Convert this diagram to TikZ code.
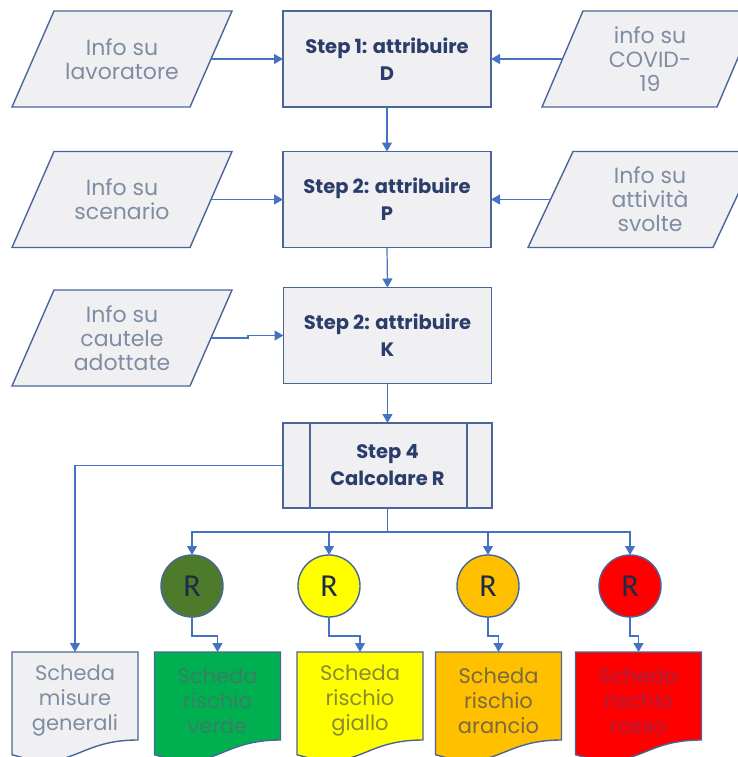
\documentclass[tikz,border=0pt]{standalone}
\usepackage{fontspec}
\setmainfont{Poppins}
\newfontfamily\rfont{Carlito}
\usetikzlibrary{arrows.meta,calc,backgrounds}
\definecolor{boxfill}{HTML}{F0F0F2}
\definecolor{edge}{HTML}{4A6699}
\definecolor{conn}{HTML}{4472C4}
\definecolor{infotext}{HTML}{7F8DA3}
\definecolor{steptext}{HTML}{2B3D6B}
\definecolor{rdark}{HTML}{1F2A48}
\definecolor{cgreen}{HTML}{4E7A2B}
\definecolor{cyellow}{HTML}{FFFF00}
\definecolor{corange}{HTML}{FFC000}
\definecolor{cred}{HTML}{FF0000}
\definecolor{dgreen}{HTML}{00B050}
\definecolor{tgreen}{HTML}{3A7D68}
\definecolor{tyellow}{HTML}{8A8A30}
\definecolor{torange}{HTML}{7A6A40}
\definecolor{tred}{HTML}{A82040}
\begin{document}
\begin{tikzpicture}[x=1pt,y=-1pt,
  infobox/.style={rectangle, minimum width=178pt, minimum height=96pt,
    inner sep=0pt, outer sep=0pt,
    text=infotext, font=\fontsize{22}{24}\selectfont, align=center},
  stepbox/.style={rectangle, draw=edge, line width=1.4pt, fill=boxfill,
    minimum width=208pt, minimum height=96pt, inner sep=0pt, outer sep=0pt,
    text=steptext, font=\bfseries\fontsize{19.5}{27}\selectfont, align=center},
  rnode/.style={circle, draw=edge, line width=1.4pt, minimum size=62pt,
    inner sep=0pt, outer sep=0pt, text=rdark, font=\rfont\fontsize{32}{32}\selectfont},
  docnode/.style={rectangle, minimum width=126pt, minimum height=98pt,
    inner sep=0pt, outer sep=0pt, anchor=north, align=center,
    font=\fontsize{21}{25}\selectfont},
  shapeline/.style={draw=edge, line width=1.4pt},
  arr/.style={draw=conn, line width=1.2pt, -{Triangle[length=9pt,width=10pt]}},
  plain/.style={draw=conn, line width=1.2pt}
]
\useasboundingbox (0,0) rectangle (738,757);

% input parallelograms (text nodes; outline drawn below)
\node[infobox] (p1) at (122,59) {Info su\\lavoratore};
\node[infobox, minimum width=175pt] (p3) at (650,59) {info su\\COVID-\\19};
\node[infobox] (p2) at (122,199.5) {Info su\\scenario};
\node[infobox, minimum width=185pt] (p4) at (643,199.5) {\hspace*{14pt}Info su\\\hspace*{14pt}attività\\\hspace*{14pt}svolte};
\node[infobox] (p5) at (122,338) {Info su\\cautele\\adottate};
\begin{scope}[on background layer]
\foreach \p/\s in {p1/42,p2/42,p5/42,p3/41,p4/45}{
  \draw[shapeline, fill=boxfill]
    ($(\p.north west)+(\s/2,0)$) -- ($(\p.north east)+(\s/2,0)$) --
    ($(\p.south east)+(-\s/2,0)$) -- ($(\p.south west)+(-\s/2,0)$) -- cycle;
}
\end{scope}

% steps
\node[stepbox] (s1) at (387,59) {Step 1: attribuire\\D};
\node[stepbox] (s2) at (387,199.5) {Step 2: attribuire\\P};
\node[stepbox] (s3) at (387.5,335.5) {Step 2: attribuire\\K};
\node[stepbox, minimum width=209pt, minimum height=85pt] (s4) at (387.5,465.5) {Step 4\\Calcolare R};
\draw[shapeline] ($(s4.north west)+(27,0)$) -- ($(s4.south west)+(27,0)$)
  ($(s4.north east)+(-25,0)$) -- ($(s4.south east)+(-25,0)$);

% circles
\node[rnode, fill=cgreen] (c1) at (192,586) {R};
\node[rnode, fill=cyellow] (c2) at (329,586) {R};
\node[rnode, fill=corange] (c3) at (488,586) {R};
\node[rnode, fill=cred] (c4) at (630,586) {R};

% documents
\node[docnode, text=infotext] (d0) at (75,652) {Scheda\\misure\\generali};
\node[docnode, text=tgreen] (d1) at (217.5,652) {Scheda\\rischio\\verde};
\node[docnode, text=tyellow] (d2) at (360,652) {Scheda\\rischio\\giallo};
\node[docnode, text=torange] (d3) at (498.5,652) {Scheda\\rischio\\arancio};
\node[docnode, text=tred] (d4) at (638.5,652) {Scheda\\rischio\\rosso};
\begin{scope}[on background layer]
\foreach \d/\f in {d0/boxfill,d1/dgreen,d2/cyellow,d3/corange,d4/cred}{
  \draw[shapeline, fill=\f]
    (\d.north west) -- (\d.north east) -- ($(\d.north east)+(0,88)$)
    .. controls ($(\d.north)+(0,88)$) and ($(\d.north)+(0,121.8)$) ..
    ($(\d.north west)+(0,102.7)$) -- cycle;
}
\end{scope}

% connectors
\draw[arr] (p1.east) -- (s1.west);
\draw[arr] (p3.west) -- (s1.east);
\draw[arr] (p2.east) -- (s2.west);
\draw[arr] (p4.west) -- (s2.east);
\draw[arr] (p5.east) -- ++(37,0) -- ++(0,-2.5) -- (s3.west);
\draw[arr] (s1.south) -- (s2.north);
\draw[arr] (s2.south) -- (s3.north);
\draw[arr] (s3.south) -- (s4.north);
\draw[arr] (s4.west) -| (d0.north);
\draw[plain] (s4.south) -- ++(0,24) coordinate (bus);
\foreach \c in {c1,c2,c3,c4}{ \draw[arr] (bus) -| (\c.north); }
\draw[arr] (c1.south) -- ++(0,19) -| (d1.north);
\draw[arr] (c2.south) -- ++(0,19) -| (d2.north);
\draw[arr] (c3.south) -- ++(0,19) -| (d3.north);
\draw[arr] (c4.south) -- ++(0,19) -| (d4.north);
\end{tikzpicture}
\end{document}
